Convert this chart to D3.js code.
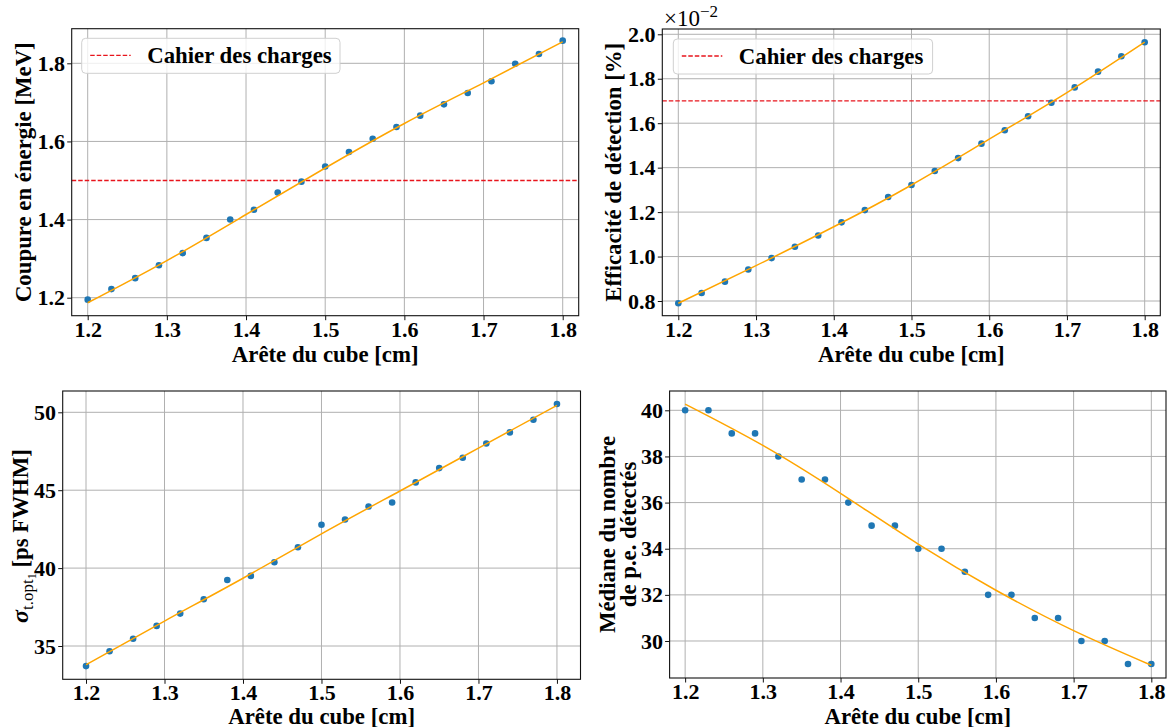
<!DOCTYPE html>
<html><head><meta charset="utf-8">
<script src="https://cdn.jsdelivr.net/npm/d3@7"></script>
<style>
body{margin:0;background:#fff}
text, tspan{font-family:"Liberation Serif", Tinos, "Times New Roman", serif !important}
</style>
</head><body><svg id="c" width="1170" height="727" style="font-family:'Liberation Serif', serif"></svg>
<script>
// ---- data ----
const edge = [1.2,1.23,1.26,1.29,1.32,1.35,1.38,1.41,1.44,1.47,1.5,1.53,1.56,1.59,1.62,1.65,1.68,1.71,1.74,1.77,1.8];
const coupure = [1.195,1.222,1.250,1.283,1.314,1.353,1.400,1.425,1.469,1.497,1.536,1.573,1.607,1.637,1.666,1.695,1.724,1.754,1.799,1.824,1.858];
const efficacite = [0.790,0.836,0.887,0.942,0.993,1.044,1.095,1.154,1.209,1.268,1.322,1.385,1.443,1.508,1.568,1.631,1.692,1.761,1.832,1.901,1.964];
const sigmaT = [33.71,34.66,35.47,36.29,37.08,38.0,39.24,39.50,40.38,41.34,42.78,43.12,43.95,44.21,45.50,46.42,47.08,48.0,48.71,49.52,50.53];
const mediane = [40,40,39,39,38,37,37,36,35,35,34,34,33,32,32,31,31,30,30,29,29];

const fitX = [1.2,1.3,1.4,1.5,1.6,1.7,1.8];
const coupureFit = [1.187,1.295,1.413,1.532,1.646,1.750,1.855];
const efficaciteFit = [0.790,0.959,1.134,1.322,1.528,1.738,1.965];
const sigmaFit = [33.8,36.6,39.35,42.2,44.95,47.7,50.45];
const medianeFit = [40.27,38.48,36.4,34.2,32.2,30.45,28.95];

const cahierCoupure = 1.5;
const cahierEff = 1.7;

const xTicks = [1.2,1.3,1.4,1.5,1.6,1.7,1.8];
const coupureTicks = [1.2,1.4,1.6,1.8];
const effTicks = [0.8,1.0,1.2,1.4,1.6,1.8,2.0];
const sigmaTicks = [35,40,45,50];
const medTicks = [30,32,34,36,38,40];

const xLabel = "Arête du cube [cm]";
const legendLabel = "Cahier des charges";

// ---- drawing ----
const svg = d3.select("#c");
const FF = "Liberation Serif";
const FS = 22;     // tick labels
const LS = 22.8;   // axis labels / legend

function txt(sel){ return sel.append("text").attr("font-family", FF).style("font-family", FF).attr("font-weight", "bold").attr("fill", "#000"); }

function panel(o){
  const g = svg.append("g");
  const x = d3.scaleLinear().domain(o.xd).range([o.l, o.r]);
  const y = d3.scaleLinear().domain(o.yd).range([o.b, o.t]);
  g.append("g").selectAll("line").data(xTicks).join("line")
    .attr("x1", d=>x(d)).attr("x2", d=>x(d)).attr("y1", o.t).attr("y2", o.b)
    .attr("stroke", "#b0b0b0").attr("stroke-width", 1);
  g.append("g").selectAll("line").data(o.yt).join("line")
    .attr("y1", d=>y(d)).attr("y2", d=>y(d)).attr("x1", o.l).attr("x2", o.r)
    .attr("stroke", "#b0b0b0").attr("stroke-width", 1);
  if (o.ref !== undefined) {
    g.append("line").attr("x1", o.l).attr("x2", o.r).attr("y1", y(o.ref)).attr("y2", y(o.ref))
      .attr("stroke", "#e8141c").attr("stroke-width", 1.3).attr("stroke-dasharray", "4.5,2");
  }
  g.append("g").selectAll("circle").data(edge).join("circle")
    .attr("cx", d=>x(d)).attr("cy", (d,i)=>y(o.vals[i])).attr("r", 3.3)
    .attr("fill", "#1f77b4");
  const line = d3.line().x((d,i)=>x(fitX[i])).y(d=>y(d)).curve(d3.curveNatural);
  g.append("path").attr("d", line(o.fit)).attr("fill", "none")
    .attr("stroke", "#ffa500").attr("stroke-width", 1.5);
  g.append("rect").attr("x", o.l).attr("y", o.t).attr("width", o.r-o.l).attr("height", o.b-o.t)
    .attr("fill", "none").attr("stroke", "#111").attr("stroke-width", 1.1);
  const ax = g.append("g").attr("transform", `translate(0,${o.b})`)
    .call(d3.axisBottom(x).tickValues(xTicks).tickFormat(d3.format(".1f")).tickSizeOuter(0).tickSize(4.5).tickPadding(o.xpad));
  const ay = g.append("g").attr("transform", `translate(${o.l},0)`)
    .call(d3.axisLeft(y).tickValues(o.yt).tickFormat(d3.format(o.yf)).tickSizeOuter(0).tickSize(4.5).tickPadding(2.2));
  [ax, ay].forEach(a=>{
    a.attr("font-size", FS).attr("font-family", FF).style("font-family", FF);
    a.select(".domain").remove();
    a.selectAll(".tick line").attr("stroke", "#111").attr("stroke-width", 1);
    a.selectAll(".tick text").attr("font-family", FF).style("font-family", FF).attr("font-weight", "bold").attr("fill", "#000");
  });
  txt(g).attr("x", (o.l+o.r)/2).attr("y", o.xlY).attr("text-anchor", "middle")
    .attr("font-size", LS).text(xLabel);
  if (o.leg) {
    const L = o.leg;
    g.append("rect").attr("x", L.x).attr("y", L.y).attr("width", L.w).attr("height", L.h)
      .attr("rx", 4).attr("fill", "#fff").attr("fill-opacity", 0.8)
      .attr("stroke", "#d0d0d0").attr("stroke-width", 1);
    g.append("line").attr("x1", L.x+8.5).attr("x2", L.x+49).attr("y1", L.y+17).attr("y2", L.y+17)
      .attr("stroke", "#e8141c").attr("stroke-width", 1.3).attr("stroke-dasharray", "4.5,2");
    txt(g).attr("x", L.x+65.5).attr("y", L.y+24.5).attr("font-size", LS).text(legendLabel);
  }
  return {g, x, y};
}

const p1 = panel({l:71.7, r:578.7, t:28.7, b:315.7, xd:[1.1798,1.8202], yd:[1.1539,1.8886],
  yt:coupureTicks, yf:".1f", vals:coupure, fit:coupureFit, ref:cahierCoupure, xlY:361.5, xpad:1,
  leg:{x:81.7, y:38.3, w:258.3, h:35}});
txt(p1.g).attr("transform", "translate(31,172.2) rotate(-90)").attr("text-anchor", "middle")
  .attr("font-size", LS).text("Coupure en énergie [MeV]");

const p2 = panel({l:662.3, r:1160.3, t:29, b:315.7, xd:[1.1794,1.8201], yd:[0.7339,2.0238],
  yt:effTicks, yf:".1f", vals:efficacite, fit:efficaciteFit, ref:cahierEff, xlY:361.5, xpad:1,
  leg:{x:673.3, y:39, w:259.3, h:35}});
txt(p2.g).attr("transform", "translate(621,172.3) rotate(-90)").attr("text-anchor", "middle")
  .attr("font-size", LS).text("Efficacité de détection [%]");
const off = txt(p2.g).attr("font-weight", "normal").attr("x", 664).attr("y", 26).attr("font-size", 23);
off.append("tspan").text("×10");
off.append("tspan").attr("dy", -9).attr("font-size", 17).text("−2");

const p3 = panel({l:62.7, r:580.5, t:391, b:679.3, xd:[1.1703,1.83], yd:[32.863,51.367],
  yt:sigmaTicks, yf:"d", vals:sigmaT, fit:sigmaFit, xlY:723.5, xpad:0.5});
const lab3 = txt(p3.g).attr("transform", "translate(28,536) rotate(-90)").attr("text-anchor", "middle")
  .attr("font-size", LS);
lab3.append("tspan").attr("font-style", "italic").attr("font-size", 24).text("σ");
lab3.append("tspan").attr("dy", 5).attr("font-size", 17).attr("font-weight", "normal").text("t.opt");
lab3.append("tspan").attr("dy", 3).attr("font-size", 12).attr("font-weight", "normal").text("1");
lab3.append("tspan").attr("dy", -8).text(" [ps FWHM]");

const p4 = panel({l:669.6, r:1166, t:391, b:678, xd:[1.18,1.8189], yd:[28.396,40.837],
  yt:medTicks, yf:"d", vals:mediane, fit:medianeFit, xlY:723.5, xpad:0.5});
txt(p4.g).attr("transform", "translate(615,534.5) rotate(-90)").attr("text-anchor", "middle")
  .attr("font-size", LS).text("Médiane du nombre");
txt(p4.g).attr("transform", "translate(636,534.5) rotate(-90)").attr("text-anchor", "middle")
  .attr("font-size", LS).text("de p.e. détectés");
</script>
</body></html>
